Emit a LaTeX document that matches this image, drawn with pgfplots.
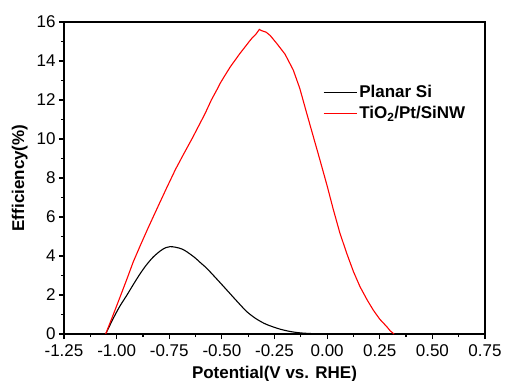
\documentclass[border=0pt]{standalone}
\usepackage{fontspec}
\setmainfont{Liberation Sans}
\usepackage{pgfplots}
\pgfplotsset{compat=1.18}
\begin{document}
\begin{tikzpicture}
\begin{axis}[
  name=ax,
  scale only axis,
  width=421bp, height=312bp,
  xmin=-1.25, xmax=0.75, ymin=0, ymax=16,
  xtick={-1.25,-1.00,...,0.76},
  ytick={0,2,...,16},
  minor x tick num=1,
  minor y tick num=1,
  tick align=outside,
  xtick pos=bottom, ytick pos=left,
  major tick length=5bp, minor tick length=3bp,
  axis line style={line width=1.6bp},
  tick style={line width=1.2bp, black},
  /pgf/number format/assume math mode=true,
  xticklabel style={yshift=-2bp, /pgf/number format/.cd, fixed, fixed zerofill, precision=2},
  ticklabel style={font=\fontsize{17bp}{17bp}\selectfont},
  xlabel={\textbf{Potential(V vs. RHE)}},
  ylabel={\textbf{Efficiency(\%)}},
  label style={font=\fontsize{17bp}{17bp}\selectfont},
  xlabel style={yshift=-2.5bp},
  ylabel style={yshift=2bp},
  legend style={draw=none, fill=none, at={(0.608,0.81)}, anchor=north west,
    font=\fontsize{17bp}{19bp}\selectfont\bfseries, row sep=3bp},
  legend cell align=left,
  legend image code/.code={\draw[#1] (0bp,0bp) -- (33bp,0bp);},
]
\addplot[black, line width=1.1bp, smooth] coordinates {
(-1.052,0) (-1.035,0.38) (-1.016,0.8) (-0.985,1.42) (-0.952,1.98) (-0.92,2.55) (-0.889,3.08)
(-0.86,3.52) (-0.826,3.95) (-0.79,4.28) (-0.766,4.43) (-0.746,4.48) (-0.72,4.45)
(-0.69,4.36) (-0.667,4.22) (-0.63,3.93) (-0.60,3.64) (-0.585,3.5) (-0.572,3.37)
(-0.55,3.12) (-0.52,2.77) (-0.477,2.26) (-0.43,1.7) (-0.382,1.15) (-0.34,0.8)
(-0.30,0.55) (-0.271,0.42) (-0.224,0.25) (-0.176,0.13) (-0.13,0.06) (-0.081,0.025)
(-0.03,0.008) (0.05,0.0)
};
\addlegendentry{Planar Si}
\addplot[red, line width=1.1bp] coordinates {
(-1.052,0) (-1.02,0.88) (-0.98,2.0) (-0.95,2.85) (-0.921,3.7) (-0.885,4.6) (-0.85,5.45)
(-0.80,6.62) (-0.762,7.5) (-0.72,8.45) (-0.683,9.2) (-0.64,10.05) (-0.604,10.8)
(-0.58,11.3) (-0.55,12.0) (-0.53,12.4) (-0.52,12.6) (-0.509,12.84) (-0.49,13.18)
(-0.46,13.7) (-0.44,14.0) (-0.414,14.39) (-0.39,14.72) (-0.37,15.0) (-0.355,15.2)
(-0.34,15.35) (-0.33,15.5) (-0.322,15.62) (-0.31,15.55) (-0.29,15.48) (-0.27,15.3) (-0.240,14.91)
(-0.20,14.35) (-0.161,13.54) (-0.13,12.6) (-0.097,11.32) (-0.065,10.1) (-0.034,8.92)
(0.0,7.6) (0.029,6.4) (0.06,5.2) (0.093,4.14) (0.125,3.2) (0.156,2.43) (0.19,1.75)
(0.219,1.23) (0.25,0.76) (0.283,0.38) (0.30,0.16) (0.318,0)
};
\addlegendentry{TiO\textsubscript{2}/Pt/SiNW}
\end{axis}
\pgfresetboundingbox
\path ([xshift=-64bp,yshift=-47bp]ax.south west) rectangle ([xshift=20bp,yshift=22bp]ax.north east);
\end{tikzpicture}
\end{document}
